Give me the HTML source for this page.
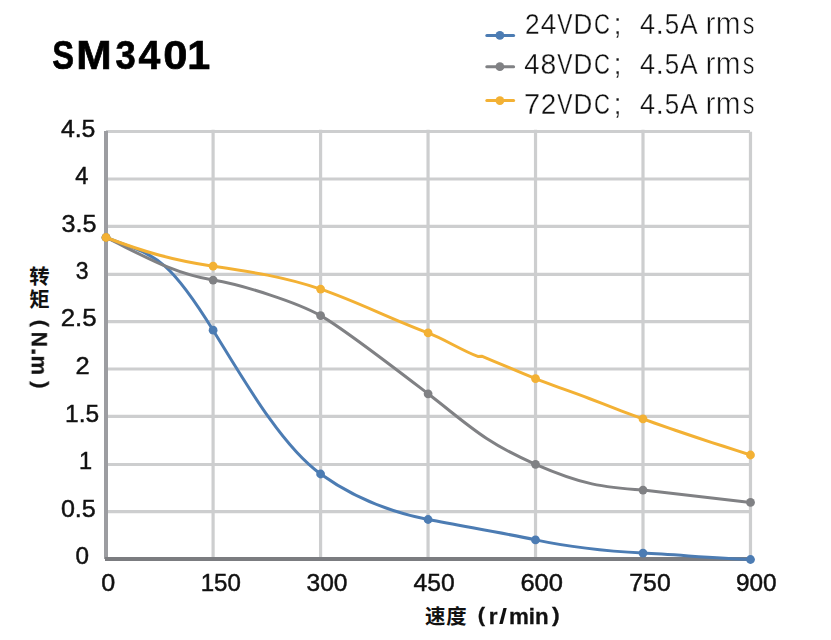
<!DOCTYPE html>
<html lang="zh">
<head>
<meta charset="utf-8">
<title>SM3401</title>
<style>
html,body{margin:0;padding:0;background:#fff;}
body{width:831px;height:640px;overflow:hidden;}
svg{display:block;}
text{font-family:"Liberation Sans",sans-serif;fill:#111;font-kerning:none;}
.txt{filter:grayscale(1);}
.tick{font-size:23.6px;stroke:#111;stroke-width:.45px;}
.leg{font-size:29px;stroke:#fff;stroke-width:.3px;}
.ttl{font-size:41.3px;font-weight:bold;fill:#000;stroke:#000;stroke-width:.7px;}
.axt{font-size:21.6px;font-weight:bold;fill:#111;stroke:#111;stroke-width:.3px;}
.cjk{font-family:"Liberation Sans","Noto Sans CJK SC",sans-serif;font-size:20.4px;font-weight:bold;fill:#111;}
.grid line{stroke:#cdcecf;stroke-width:3.2;}
.ser{fill:none;stroke-width:3;stroke-linecap:round;stroke-linejoin:round;}
</style>
</head>
<body>
<svg width="831" height="640" viewBox="0 0 831 640">
<rect width="831" height="640" fill="#fff"/>

<g class="grid">
<line x1="106" y1="131.50" x2="750.00" y2="131.50"/>
<line x1="106" y1="179.00" x2="752.00" y2="179.00"/>
<line x1="106" y1="226.45" x2="752.00" y2="226.45"/>
<line x1="106" y1="274.40" x2="752.00" y2="274.40"/>
<line x1="106" y1="321.65" x2="752.00" y2="321.65"/>
<line x1="106" y1="369.00" x2="752.00" y2="369.00"/>
<line x1="106" y1="416.30" x2="752.00" y2="416.30"/>
<line x1="106" y1="464.50" x2="752.00" y2="464.50"/>
<line x1="106" y1="511.60" x2="752.00" y2="511.60"/>
<line x1="213.10" y1="129.85" x2="213.10" y2="559"/>
<line x1="320.58" y1="129.85" x2="320.58" y2="559"/>
<line x1="428.05" y1="129.85" x2="428.05" y2="559"/>
<line x1="535.53" y1="129.85" x2="535.53" y2="559"/>
<line x1="643.00" y1="129.85" x2="643.00" y2="559"/>
<line x1="750.48" y1="131.80" x2="750.48" y2="559"/>
</g>
<line x1="106" y1="131" x2="106" y2="559" stroke="#9c9da1" stroke-width="4"/>
<line x1="105" y1="559" x2="750.5" y2="559" stroke="#7b7c80" stroke-width="4"/>
<path class="ser" stroke="#4c7cb3" d="M106.0 237.5C153.4 256.4 164.4 251.4 213.1 330.2C242.4 377.6 281.2 445.8 320.6 474.0C356.5 499.8 393.1 512.7 428.1 519.5C465.6 526.8 502.8 532.9 535.5 539.9C574.4 548.2 604.9 551.1 643.0 553.1C677.2 554.9 715.5 558.0 750.5 559.5"/>
<g fill="#4c7cb3"><circle cx="106.0" cy="237.5" r="4.4"/><circle cx="213.1" cy="330.2" r="4.4"/><circle cx="320.6" cy="474.0" r="4.4"/><circle cx="428.1" cy="519.5" r="4.4"/><circle cx="535.5" cy="539.9" r="4.4"/><circle cx="643.0" cy="553.1" r="4.4"/><circle cx="750.5" cy="559.5" r="4.4"/></g>
<path class="ser" stroke="#808184" d="M106.0 237.5C145.7 256.9 173.1 273.4 213.1 280.1C244.0 285.2 297.2 302.5 320.6 315.6C343.0 328.2 391.6 365.8 428.1 393.8C467.8 424.3 482.9 441.3 535.5 464.3C582.9 484.9 602.8 487.3 643.0 490.1L750.5 502.4"/>
<g fill="#808184"><circle cx="106.0" cy="237.5" r="4.4"/><circle cx="213.1" cy="280.1" r="4.4"/><circle cx="320.6" cy="315.6" r="4.4"/><circle cx="428.1" cy="393.8" r="4.4"/><circle cx="535.5" cy="464.3" r="4.4"/><circle cx="643.0" cy="490.1" r="4.4"/><circle cx="750.5" cy="502.4" r="4.4"/></g>
<path class="ser" stroke="#f3b134" d="M106.0 237.5C145.3 252.4 174.0 260.4 213.1 266.2C249.5 271.6 282.9 276.4 320.6 289.1C356.7 301.3 387.7 317.7 428.1 332.9C444.7 339.2 462.0 350.6 477.8 356.4L481.7 356.2C490.7 359.9 499.6 363.6 508.6 367.4C517.5 371.2 526.5 375.0 535.5 378.6C544.4 382.1 553.4 385.4 562.3 388.7C571.3 391.9 580.3 395.1 589.2 398.5C598.2 401.9 607.1 405.4 616.1 408.8C625.0 412.3 634.0 415.6 643.0 418.9C651.9 422.1 660.9 425.3 669.8 428.4C678.8 431.4 687.8 434.5 696.7 437.5C705.7 440.5 714.6 443.4 723.6 446.3C732.6 449.2 741.5 452.1 750.5 455.0"/>
<g fill="#f3b134"><circle cx="106.0" cy="237.5" r="4.4"/><circle cx="213.1" cy="266.2" r="4.4"/><circle cx="320.6" cy="289.1" r="4.4"/><circle cx="428.1" cy="332.9" r="4.4"/><circle cx="535.5" cy="378.6" r="4.4"/><circle cx="643.0" cy="418.9" r="4.4"/><circle cx="750.5" cy="455.0" r="4.4"/></g>
<line x1="486.8" y1="35.4" x2="513.6" y2="35.4" stroke="#4c7cb3" stroke-width="3" stroke-linecap="round"/>
<circle cx="499.9" cy="35.4" r="4.4" fill="#4c7cb3"/>
<line x1="486.8" y1="66.7" x2="513.6" y2="66.7" stroke="#808184" stroke-width="3" stroke-linecap="round"/>
<circle cx="499.9" cy="66.7" r="4.4" fill="#808184"/>
<line x1="486.8" y1="100.6" x2="513.6" y2="100.6" stroke="#f3b134" stroke-width="3" stroke-linecap="round"/>
<circle cx="499.9" cy="100.6" r="4.4" fill="#f3b134"/>
<g class="txt">
<text class="ttl" y="69.20"><tspan x="52.36" textLength="21.82" lengthAdjust="spacingAndGlyphs">S</tspan><tspan x="76.26" textLength="35.38" lengthAdjust="spacingAndGlyphs">M</tspan><tspan x="115.46" textLength="20.25" lengthAdjust="spacingAndGlyphs">3</tspan><tspan x="138.61" textLength="21.80" lengthAdjust="spacingAndGlyphs">4</tspan><tspan x="163.38" textLength="24.21" lengthAdjust="spacingAndGlyphs">0</tspan><tspan x="187.29">1</tspan></text>
<text class="leg" y="33.90"><tspan x="524.98" textLength="14.65" lengthAdjust="spacingAndGlyphs">2</tspan><tspan x="540.76" textLength="15.56" lengthAdjust="spacingAndGlyphs">4</tspan><tspan x="557.30" textLength="15.20" lengthAdjust="spacingAndGlyphs">V</tspan><tspan x="573.47" textLength="18.78" lengthAdjust="spacingAndGlyphs">D</tspan><tspan x="593.88" textLength="15.96" lengthAdjust="spacingAndGlyphs">C</tspan><tspan x="613.42" y="34.00">;</tspan> <tspan x="639.88" y="33.90" textLength="15.12" lengthAdjust="spacingAndGlyphs">4</tspan><tspan x="655.52" textLength="8.46" lengthAdjust="spacingAndGlyphs">.</tspan><tspan x="664.66" textLength="14.43" lengthAdjust="spacingAndGlyphs">5</tspan><tspan x="679.95" textLength="17.70" lengthAdjust="spacingAndGlyphs">A</tspan> <tspan x="705.41" textLength="9.99" lengthAdjust="spacingAndGlyphs" style="font-size:31.6px;stroke-width:.6px">r</tspan><tspan x="715.82" textLength="24.85" lengthAdjust="spacingAndGlyphs" style="font-size:31.6px;stroke-width:.6px">m</tspan><tspan x="742.75" textLength="11.70" lengthAdjust="spacingAndGlyphs" style="font-size:31.6px;stroke-width:.6px">s</tspan></text>
<text class="leg" y="73.65"><tspan x="524.37" textLength="15.23" lengthAdjust="spacingAndGlyphs">4</tspan><tspan x="540.57" textLength="15.76" lengthAdjust="spacingAndGlyphs">8</tspan><tspan x="557.30" textLength="15.20" lengthAdjust="spacingAndGlyphs">V</tspan><tspan x="573.47" textLength="18.78" lengthAdjust="spacingAndGlyphs">D</tspan><tspan x="593.88" textLength="15.96" lengthAdjust="spacingAndGlyphs">C</tspan><tspan x="613.42" y="73.75">;</tspan> <tspan x="639.88" y="73.65" textLength="15.12" lengthAdjust="spacingAndGlyphs">4</tspan><tspan x="655.52" textLength="8.46" lengthAdjust="spacingAndGlyphs">.</tspan><tspan x="664.66" textLength="14.43" lengthAdjust="spacingAndGlyphs">5</tspan><tspan x="679.95" textLength="17.70" lengthAdjust="spacingAndGlyphs">A</tspan> <tspan x="705.41" textLength="9.99" lengthAdjust="spacingAndGlyphs" style="font-size:31.6px;stroke-width:.6px">r</tspan><tspan x="715.82" textLength="24.85" lengthAdjust="spacingAndGlyphs" style="font-size:31.6px;stroke-width:.6px">m</tspan><tspan x="742.75" textLength="11.70" lengthAdjust="spacingAndGlyphs" style="font-size:31.6px;stroke-width:.6px">s</tspan></text>
<text class="leg" y="113.70"><tspan x="524.11" textLength="16.15" lengthAdjust="spacingAndGlyphs">7</tspan><tspan x="540.80" textLength="15.50" lengthAdjust="spacingAndGlyphs">2</tspan><tspan x="557.30" textLength="15.20" lengthAdjust="spacingAndGlyphs">V</tspan><tspan x="573.47" textLength="18.78" lengthAdjust="spacingAndGlyphs">D</tspan><tspan x="593.88" textLength="15.96" lengthAdjust="spacingAndGlyphs">C</tspan><tspan x="613.42" y="113.80">;</tspan> <tspan x="639.88" y="113.70" textLength="15.12" lengthAdjust="spacingAndGlyphs">4</tspan><tspan x="655.52" textLength="8.46" lengthAdjust="spacingAndGlyphs">.</tspan><tspan x="664.66" textLength="14.43" lengthAdjust="spacingAndGlyphs">5</tspan><tspan x="679.95" textLength="17.70" lengthAdjust="spacingAndGlyphs">A</tspan> <tspan x="705.41" textLength="9.99" lengthAdjust="spacingAndGlyphs" style="font-size:31.6px;stroke-width:.6px">r</tspan><tspan x="715.82" textLength="24.85" lengthAdjust="spacingAndGlyphs" style="font-size:31.6px;stroke-width:.6px">m</tspan><tspan x="742.75" textLength="11.70" lengthAdjust="spacingAndGlyphs" style="font-size:31.6px;stroke-width:.6px">s</tspan></text>
<text class="tick" x="60.93" y="136.50" textLength="34.51" lengthAdjust="spacingAndGlyphs">4.5</text>
<text class="tick" x="75.36" y="183.90" textLength="13.08" lengthAdjust="spacingAndGlyphs">4</text>
<text class="tick" x="61.54" y="231.60" textLength="35.02" lengthAdjust="spacingAndGlyphs">3.5</text>
<text class="tick" x="75.82" y="278.90" textLength="12.79" lengthAdjust="spacingAndGlyphs">3</text>
<text class="tick" x="60.70" y="326.40" textLength="35.88" lengthAdjust="spacingAndGlyphs">2.5</text>
<text class="tick" x="75.42" y="373.60" textLength="14.16" lengthAdjust="spacingAndGlyphs">2</text>
<text class="tick" x="65.03" y="421.50" textLength="34.10" lengthAdjust="spacingAndGlyphs">1.5</text>
<text class="tick" x="85.5" y="468.9" text-anchor="middle">1</text>
<text class="tick" x="60.92" y="516.50" textLength="34.88" lengthAdjust="spacingAndGlyphs">0.5</text>
<text class="tick" x="75.55" y="563.70" textLength="13.50" lengthAdjust="spacingAndGlyphs">0</text>
<text class="tick" x="101.32" y="591.20" textLength="13.96" lengthAdjust="spacingAndGlyphs">0</text>
<text class="tick" x="200.67" y="591.20" textLength="40.17" lengthAdjust="spacingAndGlyphs">150</text>
<text class="tick" x="306.56" y="591.20" textLength="41.00" lengthAdjust="spacingAndGlyphs">300</text>
<text class="tick" x="413.53" y="591.20" textLength="41.13" lengthAdjust="spacingAndGlyphs">450</text>
<text class="tick" x="520.40" y="591.20" textLength="42.59" lengthAdjust="spacingAndGlyphs">600</text>
<text class="tick" x="629.33" y="591.20" textLength="41.34" lengthAdjust="spacingAndGlyphs">750</text>
<text class="tick" x="735.96" y="591.20" textLength="40.70" lengthAdjust="spacingAndGlyphs">900</text>
</g>
<g fill="#111">
<text class="cjk" x="29.33" y="284.48">转</text>
<text class="cjk" x="29.33" y="306.85">矩</text>
<text class="cjk" x="425.09" y="624.03">速</text>
<text class="cjk" x="446.31" y="623.98">度</text>
</g>
<g class="txt">
<g transform="translate(31.8 0) rotate(90)">
<text class="axt" y="0.00"><tspan x="319.82" y="-2.40" textLength="7.20" lengthAdjust="spacingAndGlyphs" style="font-size:20.4px">(</tspan><tspan x="331.79" y="0.00" textLength="15.23" lengthAdjust="spacingAndGlyphs" style="font-size:21.8px">N</tspan><tspan x="347.88" y="0.00" textLength="7.88" lengthAdjust="spacingAndGlyphs">.</tspan><tspan x="355.45" y="0.00" textLength="19.62" lengthAdjust="spacingAndGlyphs" style="font-size:22.4px">m</tspan><tspan x="381.28" y="-2.40" textLength="7.32" lengthAdjust="spacingAndGlyphs" style="font-size:20.4px">)</tspan></text>
</g>
<text class="axt" y="623.50"><tspan x="477.71" y="621.80" textLength="7.32" lengthAdjust="spacingAndGlyphs" style="font-size:20.4px">(</tspan><tspan x="488.76" y="623.50" textLength="8.78" lengthAdjust="spacingAndGlyphs" style="font-size:22.2px">r</tspan><tspan x="499.02" y="624.20" textLength="8.07" lengthAdjust="spacingAndGlyphs" style="stroke:none">/</tspan><tspan x="508.93" y="623.50" textLength="39.65" lengthAdjust="spacingAndGlyphs" style="font-size:22.2px">min</tspan><tspan x="551.98" y="621.80" textLength="7.67" lengthAdjust="spacingAndGlyphs" style="font-size:20.4px">)</tspan></text>
</g>
</svg>
</body>
</html>
